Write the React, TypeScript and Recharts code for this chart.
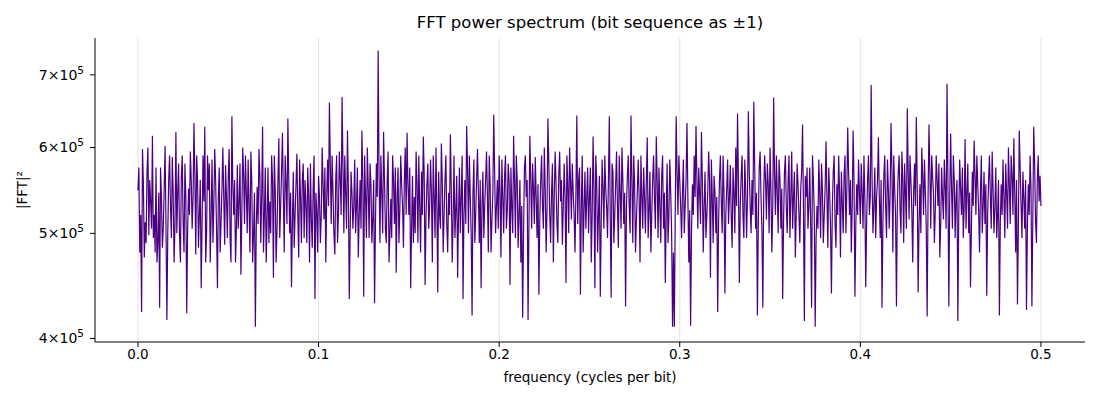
import React from 'react';
import { LineChart, Line, XAxis, YAxis, ReferenceLine, Label } from 'recharts';

// |FFT|^2, in thousands, one value per 0.0005 cycles/bit (0 .. 0.5)
const POWER_K = [
  548, 575, 480, 520, 423, 598, 556, 475, 512, 490, 570, 600, 498, 560, 535, 505, 615, 495, 520, 480,
  575, 470, 490, 545, 427, 575, 540, 485, 505, 550, 602, 510, 416, 500, 560, 590, 530, 495, 588, 545,
  470, 510, 620, 500, 545, 580, 498, 470, 563, 590, 512, 480, 580, 540, 422, 505, 550, 520, 595, 560,
  505, 540, 632, 565, 478, 590, 560, 485, 520, 560, 445, 510, 590, 535, 627, 470, 500, 590, 548, 580,
  470, 520, 585, 490, 530, 598, 560, 505, 445, 540, 575, 480, 512, 550, 600, 540, 488, 578, 540, 495,
  565, 598, 495, 470, 641, 555, 520, 560, 470, 505, 578, 505, 535, 580, 458, 520, 600, 565, 510, 590,
  545, 500, 585, 530, 480, 595, 560, 470, 500, 545, 410, 505, 552, 510, 598, 565, 490, 540, 627, 480,
  520, 575, 470, 515, 575, 490, 535, 500, 590, 560, 455, 590, 548, 470, 505, 560, 612, 495, 530, 570,
  619, 540, 480, 590, 555, 510, 638, 560, 500, 545, 446, 510, 570, 485, 520, 555, 592, 520, 475, 585,
  540, 490, 560, 580, 495, 560, 530, 490, 575, 540, 470, 580, 515, 485, 550, 590, 435, 545, 525, 480,
  565, 540, 490, 520, 600, 555, 515, 575, 470, 540, 585, 530, 660, 580, 510, 590, 545, 500, 478, 560,
  590, 490, 520, 595, 560, 520, 668, 580, 500, 590, 545, 505, 622, 550, 435, 500, 570, 545, 505, 530,
  585, 500, 530, 575, 475, 520, 560, 505, 622, 560, 437, 590, 540, 495, 600, 550, 495, 580, 555, 490,
  515, 560, 431, 510, 580, 540, 737, 565, 490, 590, 545, 500, 620, 560, 505, 490, 560, 595, 470, 500,
  538, 495, 590, 560, 510, 575, 460, 540, 575, 490, 525, 590, 555, 530, 485, 560, 600, 520, 619, 555,
  520, 575, 445, 505, 565, 490, 540, 500, 595, 555, 490, 590, 530, 480, 570, 520, 614, 565, 448, 520,
  555, 580, 505, 530, 585, 545, 470, 590, 540, 495, 600, 530, 441, 570, 520, 505, 605, 560, 480, 520,
  560, 590, 510, 480, 545, 520, 617, 550, 470, 515, 590, 495, 525, 565, 455, 520, 575, 500, 540, 590,
  435, 520, 560, 510, 628, 575, 500, 590, 540, 500, 420, 545, 585, 490, 520, 560, 598, 545, 490, 560,
  445, 530, 570, 495, 530, 560, 595, 540, 480, 590, 555, 480, 515, 545, 643, 570, 500, 530, 560, 505,
  590, 545, 475, 585, 540, 500, 565, 590, 505, 525, 580, 560, 448, 575, 530, 500, 615, 560, 495, 590,
  560, 485, 520, 560, 470, 530, 418, 500, 575, 590, 540, 560, 416, 510, 615, 560, 505, 580, 550, 510,
  588, 540, 495, 555, 439, 515, 560, 590, 530, 505, 600, 550, 480, 525, 638, 580, 520, 490, 545, 580,
  470, 540, 595, 555, 510, 490, 565, 595, 535, 560, 488, 530, 580, 540, 450, 590, 555, 500, 600, 560,
  515, 580, 545, 520, 480, 545, 642, 510, 560, 575, 439, 530, 590, 480, 525, 570, 505, 540, 575, 500,
  540, 575, 470, 520, 614, 550, 445, 590, 560, 480, 520, 565, 437, 510, 585, 550, 505, 590, 550, 530,
  495, 560, 641, 520, 436, 580, 570, 490, 520, 555, 595, 530, 485, 590, 545, 505, 600, 560, 510, 545,
  428, 530, 565, 590, 530, 500, 642, 560, 490, 590, 555, 480, 515, 545, 585, 540, 470, 590, 540, 505,
  575, 540, 500, 560, 613, 495, 525, 570, 480, 520, 560, 590, 540, 505, 614, 560, 495, 575, 530, 490,
  565, 590, 505, 545, 450, 520, 580, 490, 520, 585, 545, 500, 410, 480, 410, 520, 641, 570, 520, 590,
  560, 530, 495, 545, 585, 500, 530, 560, 632, 540, 470, 525, 411, 500, 555, 520, 590, 540, 628, 560,
  505, 575, 545, 510, 620, 560, 480, 530, 570, 495, 520, 545, 595, 560, 455, 585, 540, 490, 565, 545,
  500, 540, 423, 510, 560, 590, 535, 500, 590, 545, 440, 520, 550, 585, 510, 540, 578, 520, 485, 575,
  545, 500, 600, 530, 645, 560, 450, 530, 565, 590, 520, 495, 585, 550, 495, 540, 648, 570, 530, 500,
  560, 520, 661, 575, 505, 545, 420, 510, 575, 595, 540, 505, 427, 545, 590, 560, 515, 580, 555, 500,
  600, 550, 480, 530, 667, 565, 520, 590, 545, 500, 585, 560, 505, 550, 435, 515, 570, 590, 530, 500,
  560, 590, 495, 540, 595, 505, 540, 570, 475, 520, 580, 555, 520, 490, 550, 570, 630, 525, 415, 565,
  540, 575, 505, 530, 575, 510, 427, 590, 560, 520, 410, 495, 530, 505, 585, 545, 495, 580, 550, 490,
  520, 550, 608, 540, 485, 575, 545, 505, 440, 530, 570, 590, 510, 485, 555, 520, 590, 545, 475, 570,
  535, 500, 565, 590, 500, 545, 626, 570, 520, 560, 480, 530, 622, 560, 437, 510, 555, 520, 585, 545,
  510, 580, 545, 505, 590, 540, 446, 515, 560, 590, 520, 540, 685, 560, 500, 530, 575, 495, 540, 560,
  613, 540, 495, 560, 427, 510, 565, 590, 530, 495, 585, 550, 505, 545, 632, 570, 480, 590, 550, 520,
  428, 535, 570, 590, 525, 500, 595, 560, 490, 580, 545, 505, 652, 570, 515, 590, 560, 525, 470, 545,
  580, 530, 640, 555, 441, 510, 555, 500, 600, 565, 520, 585, 545, 505, 419, 540, 630, 570, 505, 590,
  565, 545, 490, 525, 590, 560, 530, 580, 475, 510, 575, 540, 515, 585, 550, 505, 687, 560, 428, 540,
  618, 550, 505, 590, 560, 495, 540, 560, 415, 520, 585, 550, 520, 575, 495, 530, 611, 505, 545, 580,
  500, 545, 446, 505, 570, 530, 609, 565, 520, 590, 555, 525, 480, 545, 590, 500, 530, 570, 510, 555,
  438, 520, 560, 590, 540, 505, 595, 550, 500, 530, 575, 495, 520, 560, 420, 510, 555, 520, 585, 540,
  495, 580, 545, 505, 600, 555, 510, 590, 565, 520, 612, 545, 480, 560, 430, 505, 622, 575, 530, 495,
  570, 540, 505, 560, 425, 505, 555, 520, 590, 550, 428, 515, 627, 580, 515, 490, 560, 590, 535, 565,
  530,
];

const X_TICKS = [0, 0.1, 0.2, 0.3, 0.4, 0.5];
const Y_TICKS = [400000, 500000, 600000, 700000];
const Y_MANTISSA = ['4', '5', '6', '7'];

const data = POWER_K.map((v, i) => ({ f: i / (2 * (POWER_K.length - 1)), p: v * 1000 }));

const FONT = 'DejaVu Sans, sans-serif';

const YTick = ({ x, y, payload }: any) => {
  const idx = Y_TICKS.indexOf(payload.value);
  return (
    <text x={x - 4} y={y} dy={5} textAnchor="end" fontFamily={FONT} fontSize={14} fill="#000">
      <tspan>{Y_MANTISSA[idx]}×10</tspan>
      <tspan dy={-6} fontSize={10.5}>5</tspan>
    </text>
  );
};

const App = () => {
  return (
    <div style={{ position: 'fixed', left: 0, top: 0, width: 1100, height: 400, background: '#fff' }}>
      <div
        style={{
          position: 'absolute', left: 95, width: 990, top: 13, textAlign: 'center',
          fontFamily: FONT, fontSize: 16.5, color: '#000',
        }}
      >
        FFT power spectrum (bit sequence as ±1)
      </div>
      <LineChart width={1100} height={400} data={data} margin={{ top: 38, right: 15, bottom: 28, left: 10 }}>
        <XAxis
          dataKey="f"
          type="number"
          domain={[-0.0238, 0.5244]}
          ticks={X_TICKS}
          tickFormatter={(v: number) => v.toFixed(1)}
          allowDataOverflow
          height={30}
          stroke="#000"
          tickSize={5}
          tick={{ fill: '#000', fontSize: 13.5, fontFamily: FONT }}
        >
          <Label
            content={() => (
              <text x={590} y={382} textAnchor="middle" fontFamily={FONT} fontSize={13.5} fill="#000">
                frequency (cycles per bit)
              </text>
            )}
          />
        </XAxis>
        <YAxis
          dataKey="p"
          scale="log"
          domain={[397000, 757000]}
          ticks={Y_TICKS}
          allowDataOverflow
          width={85}
          stroke="#000"
          tickSize={5}
          tick={<YTick />}
        >
          <Label
            content={() => (
              <text x={27} y={190} textAnchor="middle" fontFamily={FONT} fontSize={13.5} fill="#000" transform="rotate(-90 27 190)">
                |FFT|²
              </text>
            )}
          />
        </YAxis>
        {/* vertical grid at the x ticks only */}
        {X_TICKS.map((t) => (
          <ReferenceLine key={t} x={t} stroke="#e3e3e3" strokeWidth={1} />
        ))}
        <Line
          type="linear"
          dataKey="p"
          stroke="#4b0082"
          strokeWidth={1.2}
          dot={false}
          isAnimationActive={false}
        />
      </LineChart>
    </div>
  );
};

export default App;
